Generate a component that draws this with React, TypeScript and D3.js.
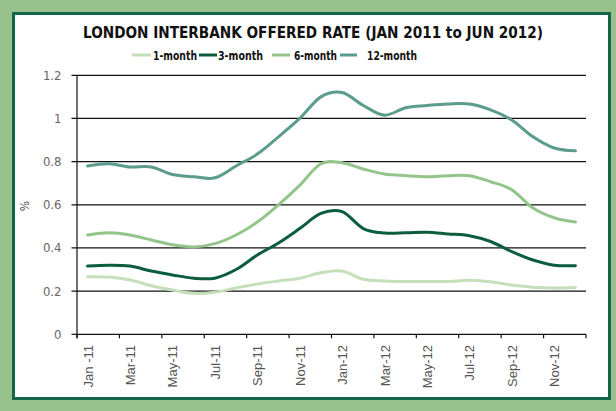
import React from "react";
import * as d3 from "d3";

const months = [
  "Jan-11","Feb-11","Mar-11","Apr-11","May-11","Jun-11","Jul-11","Aug-11","Sep-11","Oct-11","Nov-11","Dec-11",
  "Jan-12","Feb-12","Mar-12","Apr-12","May-12","Jun-12","Jul-12","Aug-12","Sep-12","Oct-12","Nov-12","Dec-12",
];
const tickLabels = ["Jan -11","Mar-11","May-11","Jul-11","Sep-11","Nov-11","Jan-12","Mar-12","May-12","Jul-12","Sep-12","Nov-12"];
const oneMonth = [0.267,0.265,0.252,0.225,0.205,0.19,0.195,0.215,0.233,0.247,0.26,0.285,0.293,0.255,0.247,0.245,0.245,0.245,0.25,0.243,0.228,0.218,0.215,0.217];
const threeMonth = [0.316,0.32,0.316,0.293,0.275,0.26,0.26,0.3,0.367,0.423,0.49,0.56,0.568,0.49,0.469,0.47,0.473,0.465,0.457,0.43,0.383,0.344,0.32,0.318];
const sixMonth = [0.46,0.47,0.46,0.437,0.415,0.405,0.42,0.46,0.52,0.6,0.69,0.79,0.795,0.766,0.743,0.735,0.73,0.735,0.735,0.707,0.67,0.585,0.54,0.52];
const twelveMonth = [0.78,0.79,0.775,0.775,0.74,0.73,0.725,0.78,0.835,0.915,1.0,1.1,1.12,1.06,1.015,1.05,1.06,1.067,1.067,1.04,0.993,0.915,0.863,0.85];
const seriesNames = ["1-month","3-month","6-month","12-month"];
const seriesColors = ["#c4dfb9","#0c5d3d","#93c48a","#5b9c8c"];
const yTicks = [0,0.2,0.4,0.6,0.8,1,1.2];
const title = "LONDON INTERBANK OFFERED RATE (JAN 2011 to JUN 2012)";

export default function App() {
  const W = 616, H = 411;
  const left = 77, right = 586, top = 75.3, bottom = 334.3;
  const x = d3.scaleBand<string>().domain(months).range([left, right]);
  const y = d3.scaleLinear().domain([0, 1.2]).range([bottom, top]);
  const all = [oneMonth, threeMonth, sixMonth, twelveMonth];
  const line = d3
    .line<number>()
    .x((_, i) => (x(months[i]) as number) + x.bandwidth() / 2)
    .y((d) => y(d))
    .curve(d3.curveCatmullRom.alpha(0));
  const tickBounds = d3.range(0, months.length + 1, 2).map((i) => left + i * x.bandwidth());
  const legendItems = [
    { lx: 132, lw: 19, tx: 153, tw: 44 },
    { lx: 199, lw: 18, tx: 218, tw: 45 },
    { lx: 272, lw: 18, tx: 294, tw: 43 },
    { lx: 340, lw: 17, tx: 367, tw: 50 },
  ];
  const sans = "'Liberation Sans', Arial, sans-serif";
  const cond = "'DejaVu Sans Condensed', 'Roboto', sans-serif";
  return (
    <svg width={W} height={H} style={{ position: "fixed", left: 0, top: 0 }}>
      <rect x={0} y={0} width={W} height={H} fill="#97c28e" />
      <rect x={13.5} y={13.5} width={596} height={385} fill="#ffffff" stroke="#15654a" strokeWidth={3} />
      <text x={313} y={38} textAnchor="middle" fontFamily={cond} fontWeight="bold" fontSize={15} fill="#111"
        textLength={460} lengthAdjust="spacingAndGlyphs">{title}</text>
      {legendItems.map((it, i) => (
        <g key={i}>
          <line x1={it.lx} x2={it.lx + it.lw} y1={55} y2={55} stroke={seriesColors[i]} strokeWidth={3} />
          <text x={it.tx} y={59.5} fontFamily={cond} fontWeight="bold" fontSize={12.5} fill="#111"
            textLength={it.tw} lengthAdjust="spacingAndGlyphs">{seriesNames[i]}</text>
        </g>
      ))}
      {yTicks.map((t) => (
        <g key={t}>
          <line x1={71.5} x2={t === 0 ? left : right} y1={y(t)} y2={y(t)} stroke="#111" strokeWidth={1.2} />
          <text x={61.5} y={y(t) + 4.5} textAnchor="end" fontFamily={cond} fontSize={13} fill="#666">{t}</text>
        </g>
      ))}
      <line x1={left} x2={right} y1={bottom} y2={bottom} stroke="#111" strokeWidth={1.2} />
      <line x1={left} x2={left} y1={top} y2={bottom + 4} stroke="#111" strokeWidth={1.2} />
      {tickBounds.map((tx, i) => (
        <line key={i} x1={tx} x2={tx} y1={bottom} y2={bottom + 4} stroke="#111" strokeWidth={1.2} />
      ))}
      {tickLabels.map((lab, k) => {
        const m = months[k * 2];
        return (
          <text key={m} transform={`translate(${(x(m) as number) + x.bandwidth() / 2 + 5},345) rotate(-90)`}
            textAnchor="end" fontFamily={sans} fontSize={13} fill="#555">{lab}</text>
        );
      })}
      <text transform="translate(29,206) rotate(-90)" textAnchor="middle" fontFamily={cond} fontSize={12} fill="#555">%</text>
      {all.map((s, i) => (
        <path key={i} d={line(s) || ""} fill="none" stroke={seriesColors[i]} strokeWidth={3} strokeLinejoin="round" strokeLinecap="round" />
      ))}
    </svg>
  );
}
